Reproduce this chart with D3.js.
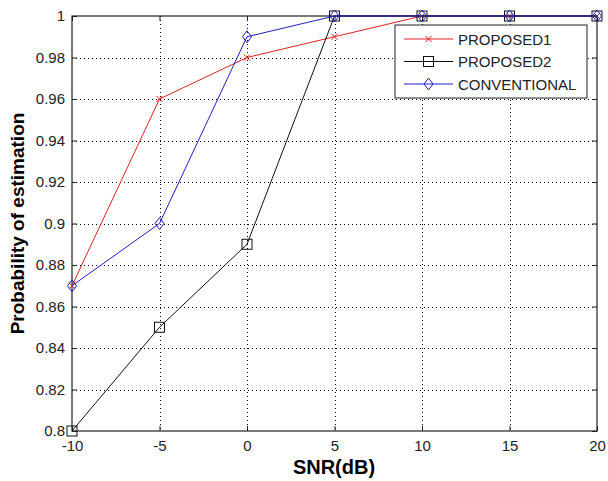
<!DOCTYPE html>
<html>
<head>
<meta charset="utf-8">
<script src="https://cdn.jsdelivr.net/npm/d3@7"></script>
<style>
  body { margin: 0; background: #fff; }
  svg text { font-family: "Liberation Sans", Arial, sans-serif; }
</style>
</head>
<body>
<div id="chart"></div>
<script>
// data
var snr = [-10, -5, 0, 5, 10, 15, 20];
var proposed1 = [0.87, 0.96, 0.98, 0.99, 1, 1, 1];
var proposed2 = [0.80, 0.85, 0.89, 1, 1, 1, 1];
var conventional = [0.87, 0.90, 0.99, 1, 1, 1, 1];
var xTicks = [-10, -5, 0, 5, 10, 15, 20];
var yTicks = [0.8, 0.82, 0.84, 0.86, 0.88, 0.9, 0.92, 0.94, 0.96, 0.98, 1];
var seriesNames = ["PROPOSED1", "PROPOSED2", "CONVENTIONAL"];

var width = 608, height = 481;
var mLeft = 72, mRight = 597, mTop = 16, mBottom = 431;

var svg = d3.select('#chart')
  .append('svg')
  .attr('width', width)
  .attr('height', height);

var x = d3.scaleLinear().domain([-10, 20]).range([mLeft, mRight]);
var y = d3.scaleLinear().domain([0.8, 1]).range([mBottom, mTop]);

// grid
svg.append('g').selectAll('line')
  .data(xTicks.slice(1, -1))
  .enter().append('line')
  .attr('x1', function(d) { return Math.round(x(d)) + 0.5; })
  .attr('x2', function(d) { return Math.round(x(d)) + 0.5; })
  .attr('y1', mTop).attr('y2', mBottom)
  .attr('stroke', '#000').attr('stroke-width', 1)
  .attr('stroke-dasharray', '1,3');
svg.append('g').selectAll('line')
  .data(yTicks.slice(1, -1))
  .enter().append('line')
  .attr('y1', function(d) { return Math.round(y(d)) + 0.5; })
  .attr('y2', function(d) { return Math.round(y(d)) + 0.5; })
  .attr('x1', mLeft).attr('x2', mRight)
  .attr('stroke', '#000').attr('stroke-width', 1)
  .attr('stroke-dasharray', '1,3');

// axes with inward ticks on all four sides
var fmt = function(d) { return String(+d.toFixed(2)); };
svg.append('g')
  .attr('transform', 'translate(0,' + mBottom + ')')
  .call(d3.axisBottom(x).tickValues(xTicks).tickSize(-5).tickPadding(9).tickFormat(fmt))
  .call(function(g) { g.select('.domain').remove(); });
svg.append('g')
  .attr('transform', 'translate(' + mLeft + ',0)')
  .call(d3.axisLeft(y).tickValues(yTicks).tickSize(-5).tickPadding(7).tickFormat(fmt))
  .call(function(g) { g.select('.domain').remove(); });
svg.append('g')
  .attr('transform', 'translate(0,' + mTop + ')')
  .call(d3.axisTop(x).tickValues(xTicks).tickSize(-5).tickFormat(''))
  .call(function(g) { g.select('.domain').remove(); });
svg.append('g')
  .attr('transform', 'translate(' + mRight + ',0)')
  .call(d3.axisRight(y).tickValues(yTicks).tickSize(-5).tickFormat(''))
  .call(function(g) { g.select('.domain').remove(); });

svg.selectAll('.tick text')
  .attr('font-size', 15)
  .attr('fill', '#222');
svg.selectAll('.tick line').attr('stroke', '#222');

svg.append('rect')
  .attr('x', mLeft).attr('y', mTop)
  .attr('width', mRight - mLeft).attr('height', mBottom - mTop)
  .attr('fill', 'none').attr('stroke', '#222').attr('stroke-width', 1.2);

// series
var series = [
  {name: seriesNames[0], values: proposed1, color: '#e02020', marker: 'x'},
  {name: seriesNames[1], values: proposed2, color: '#111', marker: 'square'},
  {name: seriesNames[2], values: conventional, color: '#2020c0', marker: 'diamond'}
];

function drawMarker(g, type, color) {
  if (type === 'x') {
    g.append('path').attr('d', 'M-3,-3L3,3M-3,3L3,-3')
      .attr('stroke', color).attr('fill', 'none');
  } else if (type === 'square') {
    g.append('rect').attr('x', -5).attr('y', -5).attr('width', 10).attr('height', 10)
      .attr('stroke', color).attr('fill', 'none');
  } else {
    g.append('path').attr('d', 'M0,-6L4.5,0L0,6L-4.5,0Z')
      .attr('stroke', color).attr('fill', 'none');
  }
}

var line = d3.line()
  .x(function(d, i) { return x(snr[i]); })
  .y(function(d) { return y(d); });

series.forEach(function(s) {
  svg.append('path')
    .datum(s.values)
    .attr('d', line)
    .attr('fill', 'none')
    .attr('stroke', s.color)
    .attr('stroke-width', 1);
  s.values.forEach(function(v, i) {
    var g = svg.append('g').attr('transform', 'translate(' + x(snr[i]) + ',' + y(v) + ')');
    drawMarker(g, s.marker, s.color);
  });
});

// legend
var lg = svg.append('g').attr('transform', 'translate(395,25)');
lg.append('rect')
  .attr('width', 192).attr('height', 73)
  .attr('fill', '#fff').attr('stroke', '#222').attr('stroke-width', 1);
series.forEach(function(s, i) {
  var yy = 14 + i * 22.5;
  lg.append('line')
    .attr('x1', 9).attr('x2', 58).attr('y1', yy).attr('y2', yy)
    .attr('stroke', s.color);
  var m = lg.append('g').attr('transform', 'translate(33.5,' + yy + ')');
  drawMarker(m, s.marker, s.color);
  lg.append('text')
    .attr('x', 63).attr('y', yy + 5.5)
    .attr('font-size', 15)
    .attr('fill', '#222')
    .text(s.name);
});

// axis labels
svg.append('text')
  .attr('x', 334).attr('y', 474)
  .attr('text-anchor', 'middle')
  .attr('font-size', 20).attr('font-weight', 'bold')
  .text('SNR(dB)');
svg.append('text')
  .attr('transform', 'translate(24,' + (mTop + mBottom) / 2 + ') rotate(-90)')
  .attr('text-anchor', 'middle')
  .attr('font-size', 19).attr('font-weight', 'bold')
  .text('Probability of estimation');
</script>
</body>
</html>
